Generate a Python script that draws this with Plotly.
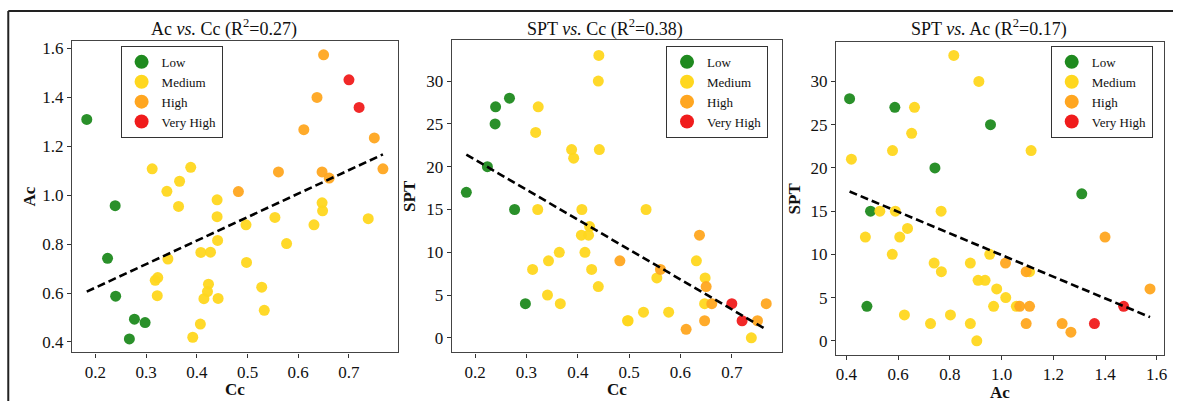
import numpy as np
import plotly.graph_objects as go

# ---- data (one row per sample) ----
classes = ["Low", "Medium", "High", "Very High"]
colors = {"Low": "#1f8a1f", "Medium": "#ffd71f", "High": "#ffa620", "Very High": "#f01c1c"}

cc = [0.183, 0.239, 0.224, 0.240, 0.277, 0.298, 0.267,
      0.312, 0.341, 0.366, 0.388, 0.440, 0.647, 0.364, 0.440, 0.648, 0.554,
      0.497, 0.631, 0.738, 0.577, 0.343, 0.408, 0.427, 0.441, 0.498, 0.318,
      0.323, 0.322, 0.423, 0.421, 0.414, 0.442, 0.528, 0.533, 0.407, 0.392,
      0.482, 0.561, 0.611, 0.637, 0.650, 0.750, 0.767, 0.647, 0.661,
      0.700, 0.720]
ac = [1.31, 0.957, 0.742, 0.587, 0.493, 0.479, 0.412,
      1.108, 1.016, 1.057, 1.114, 0.981, 0.969, 0.954, 0.912, 0.936, 0.909,
      0.879, 0.879, 0.904, 0.802, 0.739, 0.766, 0.767, 0.815, 0.725, 0.652,
      0.663, 0.589, 0.636, 0.606, 0.577, 0.578, 0.624, 0.529, 0.473, 0.419,
      1.015, 1.095, 1.268, 1.400, 1.574, 1.234, 1.108, 1.095, 1.070,
      1.472, 1.359]
spt = [17, 25, 20, 27, 15, 4, 28,
       8, 5, 4, 22, 6, 4, 10, 30, 7, 7,
       2, 9, 0, 3, 9, 15, 8, 33, 2, 24,
       27, 15, 13, 12, 10, 22, 3, 15, 12, 21,
       9, 8, 1, 12, 6, 2, 4, 2, 4,
       4, 2]
cls = ["Low"] * 7 + ["Medium"] * 30 + ["High"] * 9 + ["Very High"] * 2

titles = ["Ac <i>vs.</i> Cc (R<sup>2</sup>=0.27)",
          "SPT <i>vs.</i> Cc (R<sup>2</sup>=0.38)",
          "SPT <i>vs.</i> Ac (R<sup>2</sup>=0.17)"]
xtitles = ["Cc", "Cc", "Ac"]
ytitles = ["Ac", "SPT", "SPT"]

cc_a, ac_a, spt_a, cls_a = np.array(cc), np.array(ac), np.array(spt, float), np.array(cls)
pairs = [(cc_a, ac_a), (cc_a, spt_a), (ac_a, spt_a)]

W, H = 1177, 401
def px(x): return x / W
def py(y): return 1 - y / H

# panel boxes in pixels (left, top, right, bottom)
boxes = [(72.3, 40, 399, 352.3), (453.3, 39.3, 784.3, 352.3), (839, 40.7, 1167.7, 354.5)]
xranges = [[0.154, 0.796], [0.1546, 0.797], [0.360, 1.627]]
yranges = [[0.357, 1.631], [-1.70, 34.78], [-1.59, 34.6]]
xticks = [[0.2, 0.3, 0.4, 0.5, 0.6, 0.7], [0.2, 0.3, 0.4, 0.5, 0.6, 0.7],
          [0.4, 0.6, 0.8, 1.0, 1.2, 1.4, 1.6]]
yticks = [[0.4, 0.6, 0.8, 1.0, 1.2, 1.4, 1.6], [0, 5, 10, 15, 20, 25, 30], [0, 5, 10, 15, 20, 25, 30]]
xfmt = [".1f", ".1f", ".1f"]
yfmt = [".1f", "d", "d"]
title_cx = [224.5, 607.5, 992.8]
xtitle_y = [389, 389, 392]
ytitle_x = [30, 411, 797]
legend_pos = [(121, 45), (668.3, 45), (1054.3, 45)]

FONT = "Liberation Serif"
fig = go.Figure()
legend_names = ["legend", "legend2", "legend3"]

for i, (xs, ys) in enumerate(pairs):
    xa = "x" if i == 0 else f"x{i+1}"
    ya = "y" if i == 0 else f"y{i+1}"
    for c in classes:
        m = cls_a == c
        fig.add_trace(go.Scatter(x=xs[m], y=ys[m], mode="markers", xaxis=xa, yaxis=ya,
                                 marker=dict(size=11, color=colors[c], opacity=0.95),
                                 showlegend=False, name=c))
    k, b = np.polyfit(xs, ys, 1)
    lx = np.array([xs.min(), xs.max()])
    fig.add_trace(go.Scatter(x=lx, y=k * lx + b, mode="lines", xaxis=xa, yaxis=ya,
                             line=dict(color="black", width=2.6, dash="8px,4px"),
                             showlegend=False))
    for c in classes:
        fig.add_trace(go.Scatter(x=[None], y=[None], mode="markers", xaxis=xa, yaxis=ya,
                                 marker=dict(size=14, color=colors[c]), name=c,
                                 showlegend=True, legend=legend_names[i]))

layout = dict(width=W, height=H, margin=dict(l=0, r=0, t=0, b=0),
              paper_bgcolor="white", plot_bgcolor="white",
              font=dict(family=FONT, color="black", size=17))
annotations = []
shapes = []
for i in range(3):
    l, t, r, bt = boxes[i]
    sx = "xaxis" if i == 0 else f"xaxis{i+1}"
    sy = "yaxis" if i == 0 else f"yaxis{i+1}"
    ya = "y" if i == 0 else f"y{i+1}"
    xa = "x" if i == 0 else f"x{i+1}"
    layout[sx] = dict(domain=[px(l), px(r)], range=xranges[i], anchor=ya,
                      tickvals=xticks[i], tickformat=xfmt[i], ticks="outside", ticklen=4,
                      tickcolor="#333", showline=True, linecolor="#444", linewidth=1.4,
                      mirror=True, showgrid=False, zeroline=False,
                      tickfont=dict(family=FONT, size=17, color="#111"))
    layout[sy] = dict(domain=[py(bt), py(t)], range=yranges[i], anchor=xa,
                      tickvals=yticks[i], tickformat=yfmt[i], ticks="outside", ticklen=4,
                      tickcolor="#333", showline=True, linecolor="#444", linewidth=1.4,
                      mirror=True, showgrid=False, zeroline=False,
                      tickfont=dict(family=FONT, size=17, color="#111"))
    lx, ly = legend_pos[i]
    layout[legend_names[i]] = dict(x=px(lx), y=py(ly), xanchor="left", yanchor="top",
                                   bgcolor="white", bordercolor="#333", borderwidth=1,
                                   font=dict(family=FONT, size=13, color="#111"),
                                   tracegroupgap=0, itemsizing="trace")
    annotations.append(dict(text=titles[i], x=px(title_cx[i]), y=py(27.5), xref="paper", yref="paper",
                            xanchor="center", yanchor="middle", showarrow=False,
                            font=dict(family=FONT, size=18, color="#111")))
    annotations.append(dict(text=f"<b>{xtitles[i]}</b>", x=px((l + r) / 2), y=py(xtitle_y[i]),
                            xref="paper", yref="paper", xanchor="center", yanchor="middle",
                            showarrow=False, font=dict(family=FONT, size=17, color="#111")))
    annotations.append(dict(text=f"<b>{ytitles[i]}</b>", x=px(ytitle_x[i]), y=py((t + bt) / 2),
                            xref="paper", yref="paper", xanchor="center", yanchor="middle",
                            textangle=-90, showarrow=False,
                            font=dict(family=FONT, size=17, color="#111")))

# outer frame (left and top edges)
shapes.append(dict(type="line", xref="paper", yref="paper", x0=px(8.3), x1=px(8.3), y0=0, y1=py(10),
                   line=dict(color="#222", width=2)))
shapes.append(dict(type="line", xref="paper", yref="paper", x0=px(8.3), x1=1, y0=py(10), y1=py(10),
                   line=dict(color="#222", width=2)))
layout["annotations"] = annotations
layout["shapes"] = shapes
fig.update_layout(**layout)
fig.write_html("out.html", config={"displayModeBar": False},
               post_script="document.body.style.margin='0px';document.body.style.overflow='hidden';")
